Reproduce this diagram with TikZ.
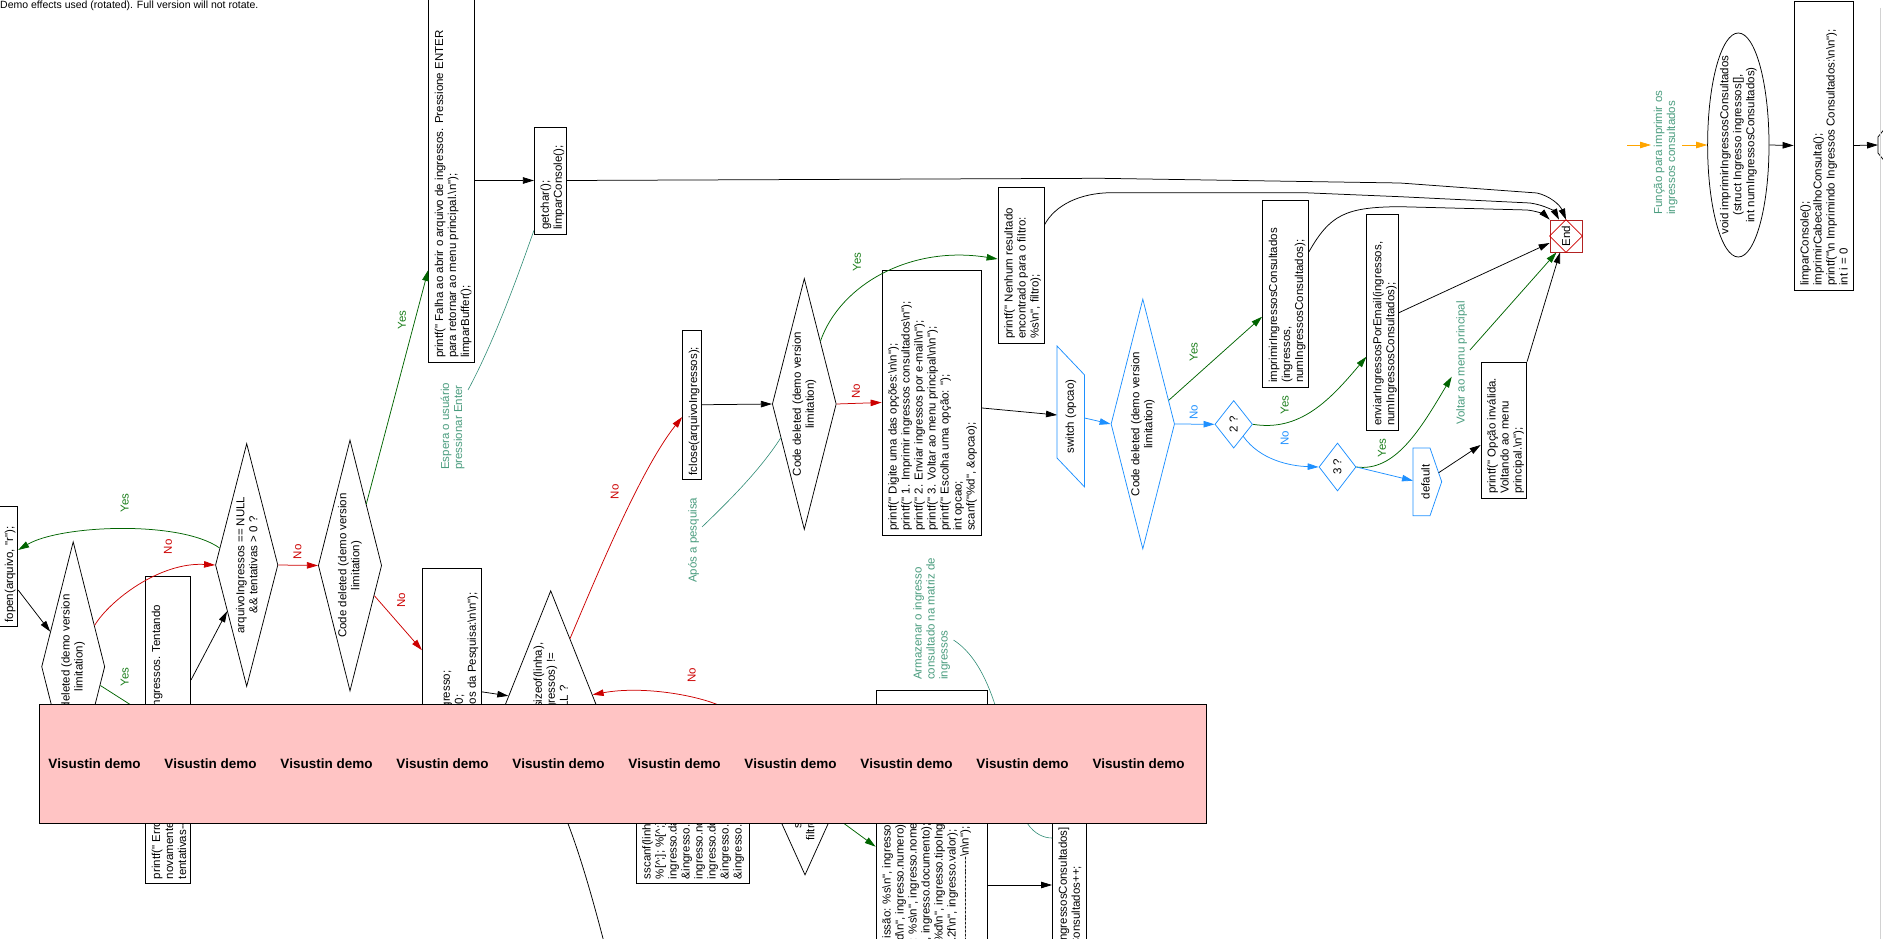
\documentclass[tikz,border=0pt]{standalone}
\usepackage{fontspec}
\setmainfont{Liberation Sans}[Ligatures=TeXOff]
\usetikzlibrary{arrows.meta,shapes.geometric,calc}
\definecolor{cred}{HTML}{CC0000}
\definecolor{cgreen}{HTML}{006400}
\definecolor{clab}{HTML}{1E801E}
\definecolor{cteal}{HTML}{4A9C7E}
\definecolor{cteall}{HTML}{2E8B74}
\definecolor{cblue}{HTML}{1E90FF}
\definecolor{corange}{HTML}{FFA500}
\definecolor{cend}{HTML}{B22222}
\definecolor{cpink}{HTML}{FFC4C4}
\newcommand{\bs}{\textbackslash}
\newcommand{\ca}{\textasciicircum}
\tikzset{
  T/.style={font=\fontsize{11.5}{13}\selectfont},
  tx/.style={T, inner sep=0pt, align=left, rotate=90, anchor=north west},
  ctx/.style={T, inner sep=0pt, align=center, rotate=90},
  lab/.style={T, inner sep=0pt, rotate=90},
  ln/.style={line width=0.75pt},
  arr/.style={ln, -{Triangle[length=11pt,width=6.5pt]}},
  blk/.style={arr, black},
  noarr/.style={arr, cred},
  yesarr/.style={arr, cgreen},
  bluearr/.style={arr, cblue},
  oarr/.style={arr, corange},
  cmt/.style={line width=0.6pt, cteall},
  boxs/.style={draw, ln, inner sep=0pt},
  dia/.style={diamond, draw, ln, inner sep=0pt},
  demo/.style={font=\fontsize{13.5}{15}\selectfont\bfseries, inner sep=0pt}
}
\newcommand{\cbox}[6]{%
  \node[boxs, minimum width={#4-(#2)}, minimum height={#5-(#3)}] (#1) at ({(#2+#4)/2},{(#3+#5)/2}) {};
  \node[tx] (#1t) at ({#2+6},{#5-4}) {#6};
}
\newcommand{\dnode}[7][black]{%
  \node[dia, draw=#1, minimum width=#5, minimum height=#6] (#2) at (#3,#4) {};
  \node[ctx] (#2t) at (#2) {#7};
}
\begin{document}
\begin{tikzpicture}[x=1pt,y=-1pt]
\useasboundingbox (0,0) rectangle (1883,939);
\clip (0,0) rectangle (1883,939);

\node[font=\fontsize{10.5}{12}\selectfont, anchor=west, inner sep=0pt] (note) at (0,5.5) {Demo effects used (rotated). Full version will not rotate.};

% ---------- boxes ----------
\cbox{falha}{428.6}{-1}{474.3}{362}{printf(" Falha ao abrir o arquivo de ingressos. Pressione ENTER\\para retornar ao menu principal.\bs n");\\limparBuffer();}
\cbox{gch}{534.3}{127}{566.4}{234}{getchar();\\limparConsole();}
\cbox{fcl}{682.5}{330}{701.4}{479.5}{fclose(arquivoIngressos);}
\cbox{menu}{882}{270}{981.8}{535}{printf(" Digite uma das opções:\bs n\bs n");\\printf(" 1. Imprimir ingressos consultados\bs n");\\printf(" 2. Enviar ingressos por e-mail\bs n");\\printf(" 3. Voltar ao menu principal\bs n\bs n");\\printf(" Escolha uma opção: ");\\int opcao;\\scanf("\%d", \&opcao);}
\cbox{nen}{998}{187}{1044}{343}{printf(" Nenhum resultado\\encontrado para o filtro:\\\%s\bs n", filtro);}
\cbox{imp}{1262.5}{200}{1308.6}{387}{imprimirIngressosConsultados\\(ingressos,\\numIngressosConsultados);}
\cbox{env}{1366.8}{214}{1397.9}{430}{enviarIngressosPorEmail(ingressos,\\numIngressosConsultados);}
\cbox{inv}{1481}{362}{1526.7}{498}{printf(" Opção inválida.\\Voltando ao menu\\principal.\bs n");}
\cbox{lim}{1794}{1}{1853.3}{290}{limparConsole();\\imprimirCabecalhoConsulta();\\printf("\bs n Imprimindo Ingressos Consultados:\bs n\bs n");\\int i = 0}
\cbox{fop}{-1.5}{506.7}{17.8}{626.7}{fopen(arquivo, "r");}
\cbox{err}{145.5}{576}{190.6}{883.3}{printf(" Erro ao abrir o arquivo de ingressos. Tentando\\novamente...\bs n");\\tentativas--;}
\cbox{pes}{422.3}{568.3}{481.6}{800}{char linha[256];\\struct Ingresso ingresso;\\int encontrados = 0;\\printf("\bs n Resultados da Pesquisa:\bs n\bs n");}
\cbox{ssc}{636}{730}{749}{883.3}{sscanf(linha, "\%[\ca;]; \%d;\\\%[\ca;]; \%[\ca;]; \%d; \%f",\\ingresso.dataEmissao,\\\&ingresso.numero,\\ingresso.nomeComprador,\\ingresso.documento,\\\&ingresso.tipoIngresso,\\\&ingresso.valor);}
\cbox{det}{876}{690}{987.5}{1040}{printf(" Data de Emissão: \%s\bs n", ingresso.dataEmissao);\\printf(" Número: \%d\bs n", ingresso.numero);\\printf(" Comprador: \%s\bs n", ingresso.nomeComprador);\\printf(" CPF: \%s\bs n", ingresso.documento);\\printf(" Categoria: \%d\bs n", ingresso.tipoIngresso);\\printf(" Valor: R\$\%.2f\bs n", ingresso.valor);\\printf("--------------------------------------\bs n\bs n");}
\cbox{arm}{1052.4}{760}{1086}{1023}{ingressos[numIngressosConsultados] = ingresso;\\numIngressosConsultados++;}

% ---------- diamonds ----------
\dnode{d0}{73.2}{666.7}{63.2}{250}{Code deleted (demo version\\limitation)}
\dnode{d1}{246.7}{565}{62.5}{243}{arquivoIngressos == NULL\\\&\& tentativas > 0 ?}
\dnode{d2}{350}{565.5}{63.4}{251}{Code deleted (demo version\\limitation)}
\dnode{d3}{550.7}{705}{91.4}{228.6}{fgets(linha, sizeof(linha),\\arquivoIngressos) !=\\NULL ?}
\dnode{g1}{804.3}{404}{64}{251}{Code deleted (demo version\\limitation)}
\dnode{flt}{805}{800}{68}{150}{strstr(linha,\\filtro) != NULL ?}
\dnode[cblue]{g2}{1142.8}{424}{63.6}{250}{Code deleted (demo version\\limitation)}
\dnode[cblue]{q2}{1233.7}{424.3}{37.6}{47.6}{2 ?}
\dnode[cblue]{q3}{1337.5}{467}{37}{48}{3 ?}

% switch and default
\draw[ln, cblue] (1057,346) -- (1084.6,375) -- (1084.6,487) -- (1057,458) -- cycle;
\node[lab] (sw) at (1070.8,416.5) {switch (opcao)};
\coordinate (swW) at (1057,415);
\coordinate (swE) at (1084.6,418);
\draw[ln, cblue] (1413,448) -- (1430,448) -- (1441.7,481.7) -- (1430,515.7) -- (1413,515.7) -- cycle;
\node[lab] (dft) at (1425.5,482) {default};
\coordinate (dftW) at (1413,480.7);
\coordinate (dftE) at (1438.7,472.7);

% End
\node[draw=cend, ln, minimum size=32, inner sep=0pt] (End) at (1566,236) {};
\draw[ln, cred] (End.north) -- (End.east) -- (End.south) -- (End.west) -- cycle;
\node[lab] (Endt) at (End) {End};

% ellipse
\node[ellipse, draw, ln, minimum width=61.4, minimum height=224, inner sep=0pt] (ell) at (1738.3,145) {};
\node[ctx] (ellt) at (ell) {void imprimirIngressosConsultados\\(struct Ingresso ingressos[],\\int numIngressosConsultados)};

% comments
\node[tx, cteal] (esp) at (440.5,470) {Espera o usuário\\pressionar Enter};
\node[tx, cteal] (apos) at (688,583) {Após a pesquisa};
\node[tx, cteal] (armz) at (913,680) {Armazenar o ingresso\\consultado na matriz de\\ingressos};
\node[tx, cteal] (func) at (1653.5,215) {Função para imprimir os\\ingressos consultados};
\node[lab, cteal] (volt) at (1461.7,363) {Voltar ao menu principal};

\coordinate (espc) at (468,390);
\coordinate (aposc) at (702,527);
\coordinate (armzc) at (953.5,640);
\coordinate (ostart) at (1627,145);
\coordinate (fin) at (1651,145);
\coordinate (fout) at (1682,145);
\coordinate (nxt) at (1878,145);
\coordinate (loopin) at (606,950);

% ---------- connectors ----------
\draw[blk] ($(fop.east)+(0,23.3)$) -- ($(d0.north)!0.72!(d0.west)$);
\draw[noarr] ($(d0.north)!0.67!(d0.east)$) .. controls (110,600) and (160,562) .. (d1.west);
\draw[yesarr] ($(d1.north)!0.86!(d1.west)$) .. controls (180,520) and (60,525) .. ($(fop.east)+(0,-16.7)$);
\draw[yesarr] ($(d0.east)!0.15!(d0.south)$) -- ($(err.west)+(0,-15.6)$);
\draw[blk] ($(err.east)+(0,-49.6)$) -- ($(d1.west)!0.38!(d1.south)$);
\draw[noarr] (d1.east) -- (d2.west);
\draw[yesarr] ($(d2.north)!0.51!(d2.east)$) -- ($(falha.west)+(0,89.5)$);
\draw[noarr] ($(d2.east)!0.24!(d2.south)$) -- ($(pes.west)+(0,-34)$);
\draw[blk] ($(pes.east)+(0,7.7)$) -- ($(d3.west)!0.08!(d3.north)$);
\draw[noarr] ($(d3.north)!0.42!(d3.east)$) .. controls (595,580) and (640,470) .. ($(fcl.west)+(0,12.3)$);
\draw[blk] (fcl.east) -- (g1.west);
\draw[noarr] (g1.east) -- (menu.west);
\draw[yesarr] (g1.north east) .. controls (840,285) and (910,245) .. ($(nen.west)+(0,-6)$);
\draw[blk] ($(menu.east)+(0,5.5)$) -- (swW);
\draw[bluearr] (swE) -- (g2.west);
\draw[bluearr] (g2.east) -- (q2.west);
\draw[yesarr] ($(g2.north)!0.81!(g2.east)$) -- ($(imp.west)+(0,23.2)$);
\draw[yesarr] (q2.east) .. controls (1300,432) and (1330,400) .. ($(env.west)+(0,34.7)$);
\draw[bluearr] ($(q2.east)!0.5!(q2.south)$) .. controls (1260,460) and (1290,466) .. (q3.west);
\draw[yesarr] (q3.east) .. controls (1395,472) and (1420,430) .. ($(volt.center)+(-10,13.7)$);
\draw[bluearr] (q3.east) -- (dftW);
\draw[blk] (dftE) -- ($(inv.west)+(0,15)$);
\draw[blk] (inv.north east) -- ($(End.south)+(-6,0)$);
\draw[yesarr] ($(volt.center)+(8.3,-13)$) -- ($(End.south west)!0.42!(End.south)$);
\draw[blk] ($(env.east)+(0,-9)$) -- ($(End.west)+(0,7)$);
\draw[blk] ($(imp.east)+(0,-41.8)$) .. controls (1330,215) and (1345,207) .. (1400,206.7) -- (1527,210) .. controls (1537,211) and (1545,215) .. (End.north west);
\draw[blk] ($(nen.east)+(0,-40)$) .. controls (1055,205) and (1080,193) .. (1111,192.7) -- (1304,192.7) -- (1400,196.7) -- (1530,203) .. controls (1545,205) and (1555,212) .. ($(End.north)+(-7,0)$);
\draw[blk] (gch.east) -- (1100,178.3) -- (1400,183) -- (1537,193) .. controls (1550,196) and (1560,205) .. (End.north);
\draw[blk] (falha.east) -- (gch.west);
\draw[cmt] (espc) .. controls (495,340) and (520,270) .. ($(gch.south west)+(0,-4)$);
\draw[cmt] (aposc) .. controls (730,500) and (760,470) .. ($(g1.west)!0.27!(g1.south)$);
\draw[cmt] (armzc) .. controls (1000,670) and (1005,760) .. (1027,823) .. controls (1035,835) and (1045,838) .. ($(arm.west)+(0,-53.5)$);
\draw[oarr] (ostart) -- (fin);
\draw[oarr] (fout) -- (ell.west);
\draw[blk] (ell.east) -- (lim.west);
\draw[blk] (lim.east) -- (nxt);
\draw[ln] (1886,127) -- (1878,137) -- (1878,153) -- (1886,163);
\draw[yesarr] ($(flt.east)!0.2!(flt.south)$) -- ($(det.west)+(0,-18.3)$);
\draw[blk] ($(det.east)+(0,20)$) -- ($(arm.west)+(0,-6.5)$);
\draw[noarr] (flt.west) .. controls (760,760) and (740,712) .. (716,704) .. controls (690,694) and (640,686) .. ($(d3.north)!0.91!(d3.east)$);
\draw[blk] (loopin) .. controls (588,880) and (575,840) .. ($(d3.east)!0.83!(d3.south)$);
\draw[gray!35, line width=0.6pt] (1880.5,8) -- (1880.5,939);

% ---------- labels ----------
\node[lab, clab] (l1) at (124.6,503) {Yes};
\node[lab, cred] (l2) at (168,546.7) {No};
\node[lab, clab] (l3) at (124.6,676.7) {Yes};
\node[lab, cred] (l4) at (297.4,551.7) {No};
\node[lab, clab] (l5) at (402,320) {Yes};
\node[lab, cred] (l6) at (401.3,600) {No};
\node[lab, cred] (l7) at (614.7,491.7) {No};
\node[lab, cred] (l8) at (691.7,675) {No};
\node[lab, cred] (l9) at (856,391) {No};
\node[lab, clab] (l10) at (857,262) {Yes};
\node[lab, cblue] (l11) at (1193.6,412) {No};
\node[lab, clab] (l12) at (1193.6,351.7) {Yes};
\node[lab, clab] (l13) at (1284.6,405) {Yes};
\node[lab, cblue] (l14) at (1284.6,438) {No};
\node[lab, clab] (l15) at (1382,448) {Yes};

% ---------- demo banner ----------
\node[draw, fill=cpink, line width=0.8pt, minimum width=1167, minimum height=119, inner sep=0pt] (banner) at (623,763.8) {};
\foreach \k in {0,...,9} {
  \node[demo] (vd\k) at ({94.5+116*\k},764) {Visustin demo};
}
\end{tikzpicture}
\end{document}
